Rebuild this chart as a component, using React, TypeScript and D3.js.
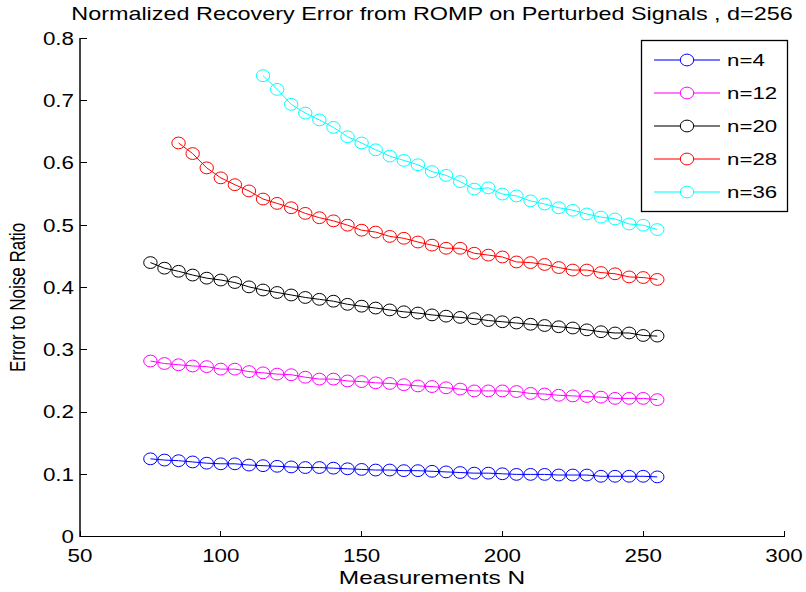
import { useRef, useEffect } from 'react';
import * as d3 from 'd3';

const xTicks = [50, 100, 150, 200, 250, 300];
const yTicks = [0, 0.1, 0.2, 0.3, 0.4, 0.5, 0.6, 0.7, 0.8];

const seriesNames = ['n=4', 'n=12', 'n=20', 'n=28', 'n=36'];
const seriesColors = ['#0000ff', '#ff00ff', '#000000', '#ff0000', '#00ffff'];
const seriesStartN = [75, 75, 75, 85, 115];

const n4 = [
  0.125, 0.123, 0.122, 0.120, 0.118, 0.117, 0.117, 0.115, 0.114, 0.113, 0.112, 0.111, 0.111,
  0.110, 0.109, 0.108, 0.107, 0.107, 0.106, 0.106, 0.105, 0.104, 0.103, 0.102, 0.102, 0.101,
  0.100, 0.100, 0.100, 0.099, 0.099, 0.099, 0.097, 0.097, 0.097, 0.097, 0.096
];
const n12 = [
  0.282, 0.278, 0.276, 0.274, 0.273, 0.269, 0.269, 0.265, 0.263, 0.261, 0.260, 0.256, 0.253,
  0.253, 0.250, 0.249, 0.247, 0.246, 0.244, 0.242, 0.241, 0.239, 0.237, 0.234, 0.234, 0.234,
  0.233, 0.230, 0.229, 0.227, 0.226, 0.225, 0.224, 0.222, 0.222, 0.222, 0.220
];
const n20 = [
  0.440, 0.431, 0.426, 0.420, 0.415, 0.412, 0.408, 0.401, 0.396, 0.392, 0.388, 0.384, 0.381,
  0.378, 0.373, 0.370, 0.367, 0.364, 0.361, 0.359, 0.356, 0.354, 0.352, 0.350, 0.347, 0.345,
  0.343, 0.341, 0.339, 0.337, 0.335, 0.332, 0.329, 0.327, 0.327, 0.323, 0.322
];
const n28 = [
  0.632, 0.615, 0.592, 0.576, 0.565, 0.555, 0.542, 0.535, 0.528, 0.519, 0.512, 0.507, 0.500,
  0.492, 0.489, 0.482, 0.479, 0.473, 0.468, 0.463, 0.463, 0.455, 0.452, 0.449, 0.441, 0.440,
  0.437, 0.432, 0.428, 0.428, 0.424, 0.422, 0.417, 0.416, 0.413
];
const n36 = [
  0.740, 0.718, 0.694, 0.680, 0.669, 0.657, 0.642, 0.632, 0.621, 0.611, 0.604, 0.597, 0.586,
  0.580, 0.570, 0.558, 0.560, 0.550, 0.547, 0.539, 0.534, 0.528, 0.524, 0.518, 0.513, 0.510,
  0.502, 0.500, 0.493
];
const seriesValues = [n4, n12, n20, n28, n36];
const stepN = 5;

const W = 806;
const H = 592;
const FONT = 'Liberation Sans, Arial, Helvetica, sans-serif';
// the picture is a little wider than it is tall, glyphs and markers look stretched sideways
const SX = 1.28;

const App = () => {
  const svgRef = useRef<SVGSVGElement>(null);

  useEffect(() => {
    if (!svgRef.current) return;
    const svg = d3.select(svgRef.current);
    svg.selectAll('*').remove();

    const x = d3.scaleLinear().domain([50, 300]).range([80, 784]);
    const y = d3.scaleLinear().domain([0, 0.8]).range([536.7, 38.3]);

    const addText = (
      px: number, py: number, str: string, size: number,
      anchor = 'middle', sx = SX, dy = '0'
    ) =>
      svg.append('text')
        .attr('transform', `translate(${px},${py}) scale(${sx},1)`)
        .attr('text-anchor', anchor)
        .attr('dy', dy)
        .attr('font-family', FONT)
        .attr('font-size', size)
        .attr('fill', '#000')
        .text(str);

    // title
    addText(432, 20, 'Normalized Recovery Error from ROMP on Perturbed Signals , d=256', 18, 'middle', 1.3);

    // axes (left and bottom only, inward ticks)
    const axes = svg.append('g').attr('stroke', '#000').attr('stroke-width', 1).attr('shape-rendering', 'crispEdges');
    axes.append('line').attr('x1', x(50)).attr('x2', x(50)).attr('y1', y(0.8)).attr('y2', y(0))
      .attr('stroke', '#444').attr('stroke-width', 1.5);
    axes.append('line').attr('x1', x(50)).attr('x2', x(300)).attr('y1', y(0)).attr('y2', y(0));
    xTicks.forEach(t => {
      axes.append('line').attr('x1', x(t)).attr('x2', x(t)).attr('y1', y(0)).attr('y2', y(0) - 6);
    });
    yTicks.forEach(t => {
      axes.append('line').attr('x1', x(50)).attr('x2', x(50) + 7).attr('y1', y(t)).attr('y2', y(t));
    });

    xTicks.forEach(t => addText(x(t), y(0) + 25, String(t), 17.5));
    yTicks.forEach(t => addText(x(50) - 6, y(t), t === 0 ? '0' : t.toFixed(1), 17.5, 'end', SX, '0.36em'));

    addText(432, 584, 'Measurements N', 18, 'middle', 1.36);

    svg.append('text')
      .attr('transform', `translate(25, ${(y(0) + y(0.8)) / 2 + 10}) scale(${SX},1) rotate(-90)`)
      .attr('text-anchor', 'middle')
      .attr('font-family', FONT)
      .attr('font-size', 17)
      .text('Error to Noise Ratio');

    // series
    const line = d3.line<[number, number]>()
      .x(d => x(d[0]))
      .y(d => y(d[1]));

    seriesValues.forEach((vals, i) => {
      const pts: [number, number][] = vals.map((v, j) => [seriesStartN[i] + j * stepN, v]);
      const g = svg.append('g');
      g.append('path')
        .datum(pts)
        .attr('d', line)
        .attr('fill', 'none')
        .attr('stroke', seriesColors[i])
        .attr('stroke-width', 1);
      g.selectAll('ellipse')
        .data(pts)
        .enter()
        .append('ellipse')
        .attr('cx', d => x(d[0]))
        .attr('cy', d => y(d[1]))
        .attr('rx', 6.7)
        .attr('ry', 5.9)
        .attr('fill', 'none')
        .attr('stroke', seriesColors[i])
        .attr('stroke-width', 1);
    });

    // legend
    const lg = svg.append('g');
    lg.append('rect')
      .attr('x', 641.5)
      .attr('y', 40.5)
      .attr('width', 146)
      .attr('height', 171)
      .attr('fill', '#fff')
      .attr('stroke', '#000')
      .attr('stroke-width', 1.3);
    seriesNames.forEach((name, i) => {
      const ly = 60 + i * 33;
      lg.append('line')
        .attr('x1', 654)
        .attr('x2', 720)
        .attr('y1', ly)
        .attr('y2', ly)
        .attr('stroke', seriesColors[i])
        .attr('stroke-opacity', 0.7)
        .attr('stroke-width', 1.3);
      lg.append('ellipse')
        .attr('cx', 687)
        .attr('cy', ly)
        .attr('rx', 6.7)
        .attr('ry', 5.9)
        .attr('fill', '#fff')
        .attr('stroke', seriesColors[i])
        .attr('stroke-width', 1);
      lg.append('text')
        .attr('transform', `translate(727,${ly}) scale(1.35,1)`)
        .attr('dy', '0.36em')
        .attr('font-family', FONT)
        .attr('font-size', 16.5)
        .text(name);
    });
  }, []);

  return (
    <svg
      ref={svgRef}
      width={W}
      height={H}
      style={{ position: 'absolute', left: 0, top: 0, background: '#fff' }}
    />
  );
};

export default App;
